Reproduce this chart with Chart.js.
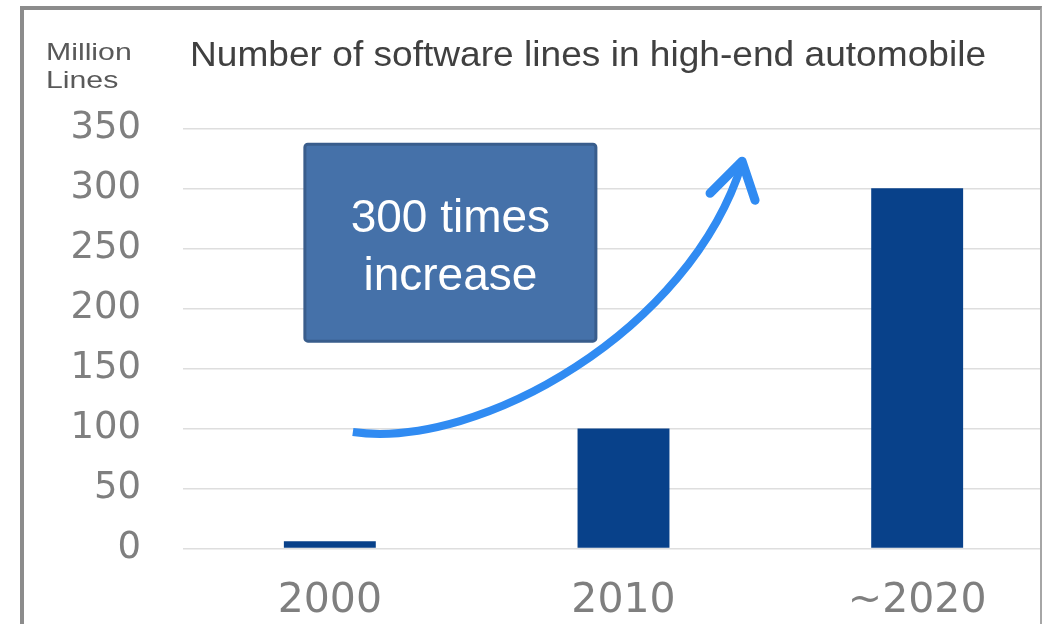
<!DOCTYPE html>
<html>
<head>
<meta charset="utf-8">
<script src="https://cdn.jsdelivr.net/npm/chart.js@4.4.1/dist/chart.umd.min.js"></script>
<style>
    html, body { margin: 0; padding: 0; overflow: hidden; background: #fff; width: 1042px; height: 624px; }
    #wrap { position: absolute; left: 0; top: 0; width: 1064px; height: 624px; }
    #frame {
        position: absolute; left: 20px; top: 6px; width: 1022px; height: 700px;
        box-sizing: border-box; pointer-events: none;
        border-left: 4px solid #8c8c8c; border-top: 4px solid #8c8c8c; border-right: 2px solid #a6a6a6;
    }
</style>
</head>
<body>
<div id="wrap"><canvas id="my-lines"></canvas></div>
<div id="frame"></div>
<script>
/*
    Data
*/
const years = ['2000', '2010', '~2020'];
const million_lines = [6, 100, 300];
const y_ticks = [0, 50, 100, 150, 200, 250, 300, 350];
const chart_title = 'Number of software lines in high-end automobile';
const unit_label = ['Million', 'Lines'];
const callout_text = ['300 times', 'increase'];

// draw text stretched horizontally (the source picture is squashed a bit)
function drawStretched(ctx, text, x, y, font, sx) {
    ctx.save();
    ctx.font = font;
    ctx.translate(x, y);
    ctx.scale(sx, 1);
    ctx.fillText(text, 0, 0);
    ctx.restore();
}

/*
    Title, unit label, callout box and arrow
*/
const extras = {
    id: 'extras',
    afterDatasetsDraw(chart) {
        const ctx = chart.ctx;
        const xs = chart.scales.x;
        const ys = chart.scales.y;
        const P = (i, v) => [xs.getPixelForValue(i), ys.getPixelForValue(v)];

        ctx.save();
        ctx.textBaseline = 'alphabetic';
        ctx.textAlign = 'left';

        // title
        ctx.fillStyle = '#404040';
        drawStretched(ctx, chart_title, 190, 66, '35px "Liberation Sans", Arial, sans-serif', 1.06);

        // unit label
        ctx.fillStyle = '#595959';
        drawStretched(ctx, unit_label[0], 46, 60, '24px "Liberation Sans", Arial, sans-serif', 1.26);
        drawStretched(ctx, unit_label[1], 46, 88, '24px "Liberation Sans", Arial, sans-serif', 1.26);

        // callout box
        const [bx1, by1] = P(-0.085, 336.7);
        const [bx2, by2] = P(0.906, 172.7);
        ctx.beginPath();
        ctx.roundRect(bx1, by1, bx2 - bx1, by2 - by1, 3);
        ctx.fillStyle = '#4571a9';
        ctx.fill();
        ctx.lineWidth = 3;
        ctx.strokeStyle = '#395d8c';
        ctx.stroke();

        ctx.fillStyle = '#ffffff';
        ctx.textAlign = 'center';
        ctx.font = '46px "Liberation Sans", Arial, sans-serif';
        const cx = (bx1 + bx2) / 2;
        ctx.fillText(callout_text[0], cx, by1 + 88);
        ctx.fillText(callout_text[1], cx, by1 + 146);

        // growth arrow
        const s = P(0.0784, 97.0);
        const c1 = P(0.511, 82.0);
        const c2 = P(1.2266, 181.9);
        const e = P(1.4037, 320.9);
        const a1 = P(1.2947, 295.9);
        const a2 = P(1.448, 290.1);
        ctx.strokeStyle = '#308bf2';
        ctx.lineWidth = 8;
        ctx.lineCap = 'butt';
        ctx.beginPath();
        ctx.moveTo(s[0], s[1]);
        ctx.bezierCurveTo(c1[0], c1[1], c2[0], c2[1], e[0], e[1]);
        ctx.stroke();

        ctx.lineWidth = 9;
        ctx.lineCap = 'round';
        ctx.lineJoin = 'round';
        ctx.beginPath();
        ctx.moveTo(a1[0], a1[1]);
        ctx.lineTo(e[0], e[1] - 2);
        ctx.lineTo(a2[0], a2[1]);
        ctx.stroke();
        ctx.restore();
    }
};

/*
    Bar chart
*/
const ctx = document.getElementById('my-lines').getContext('2d');
const myChart = new Chart(ctx, {
    type: 'bar',
    data: {
        labels: years,
        datasets: [{
            label: 'Million Lines',
            data: million_lines,
            backgroundColor: '#08418a',
            borderWidth: 0,
            barPercentage: 0.313,
            categoryPercentage: 1
        }]
    },
    options: {
        animation: false,
        responsive: true,
        maintainAspectRatio: false,
        layout: {
            padding: { top: 128.3, left: 0, right: 0, bottom: 0 }
        },
        plugins: {
            legend: { display: false },
            title: { display: false },
            tooltip: { enabled: false }
        },
        scales: {
            x: {
                grid: { display: false },
                border: { display: false },
                ticks: {
                    color: '#7f7f7f',
                    padding: 20,
                    font: { family: '"DejaVu Sans", sans-serif', size: 41 }
                },
                afterFit: (scale) => { scale.height = 75.5; }
            },
            y: {
                min: 0,
                max: 350,
                afterBuildTicks: (scale) => { scale.ticks = y_ticks.map(v => ({ value: v })); },
                grid: { color: '#dedede', lineWidth: 1.5, drawTicks: false },
                border: { display: false },
                ticks: {
                    color: '#7f7f7f',
                    padding: 42,
                    font: { family: '"DejaVu Sans", sans-serif', size: 37 }
                },
                afterFit: (scale) => { scale.width = 183; }
            }
        }
    },
    plugins: [extras]
});
</script>
</body>
</html>
